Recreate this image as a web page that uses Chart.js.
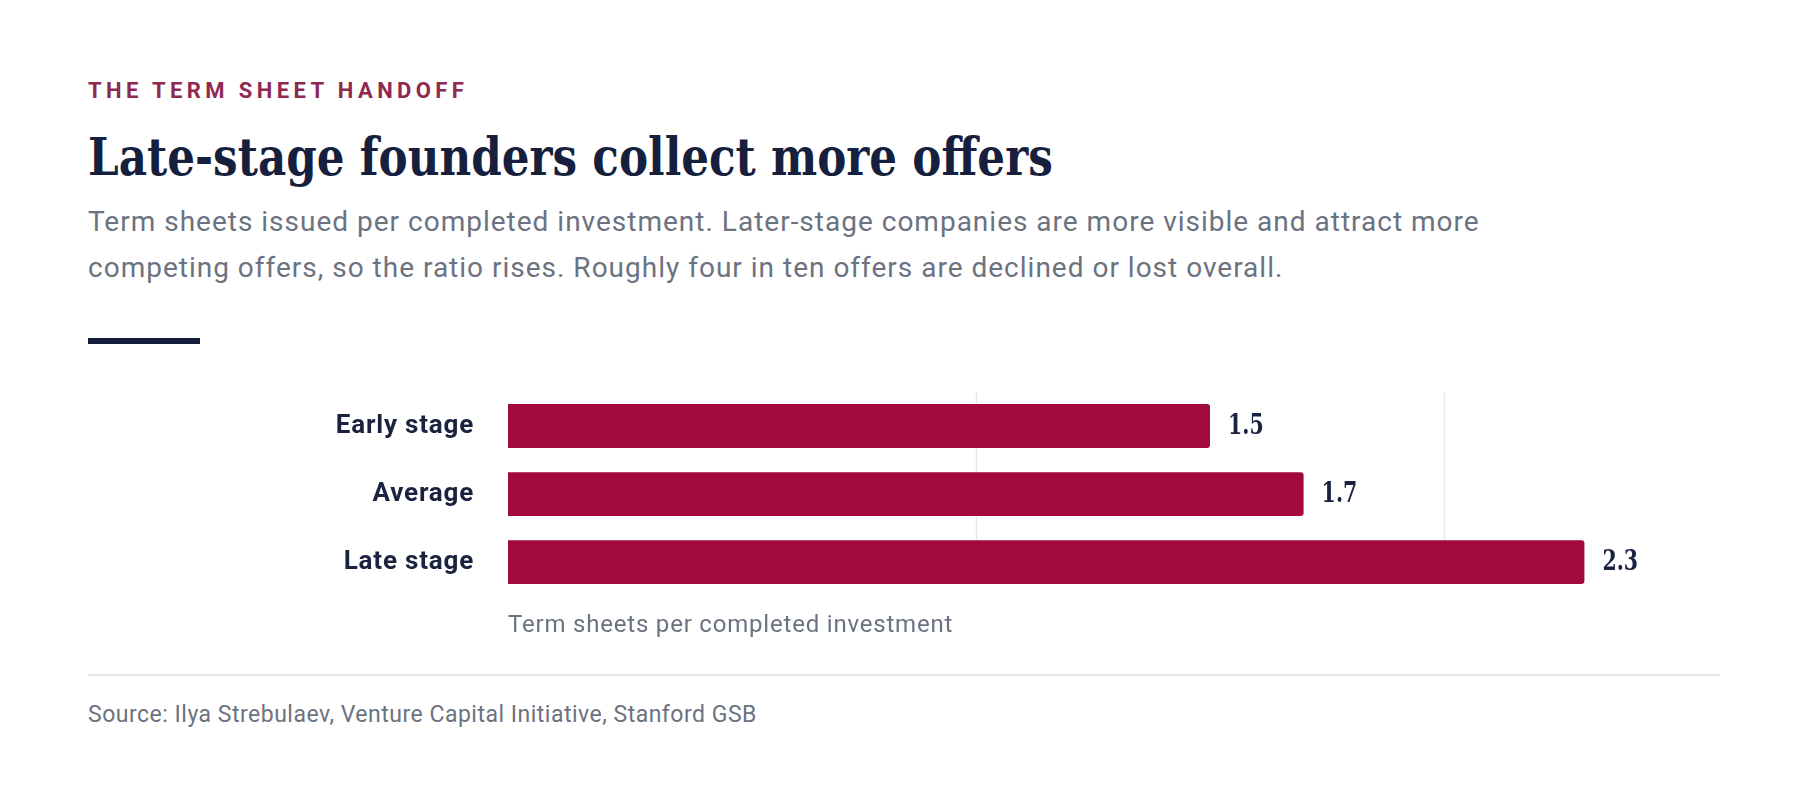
<!DOCTYPE html>
<html>
<head>
<meta charset="utf-8">
<script src="https://cdn.jsdelivr.net/npm/chart.js@4.4.1/dist/chart.umd.min.js"></script>
<style>
  html, body { margin: 0; padding: 0; background: #fff; }
  body { width: 1800px; height: 788px; position: relative; overflow: hidden; font-family: Roboto, "Noto Sans", sans-serif; }
  .abs { position: absolute; left: 88px; white-space: nowrap; }
  #kicker { top: 80px; font-size: 22px; line-height: 22px; font-weight: 700; letter-spacing: 0.2em; color: #8e2a52; }
  #title { top: 131px; font-family: "Roboto Slab", "DejaVu Serif", serif; font-size: 52px; line-height: 52px; font-weight: 700; color: #161f3d; transform: scaleX(0.84); transform-origin: 0 0; }
  #subtitle { top: 199px; width: 1460px; white-space: normal; font-size: 28px; line-height: 46px; letter-spacing: 1px; color: #6b7280; }
  #rule { top: 338px; width: 112px; height: 6px; background: #141e3c; }
  #chartBox { position: absolute; left: 88px; top: 380px; width: 1632px; height: 270px; }
  #footRule { top: 674px; width: 1632px; height: 2px; background: #e5e7eb; }
  #source { top: 703px; font-size: 23px; line-height: 23px; letter-spacing: 0.5px; color: #6b7280; }
</style>
</head>
<body>
<div class="abs" id="kicker">THE TERM SHEET HANDOFF</div>
<div class="abs" id="title">Late-stage founders collect more offers</div>
<div class="abs" id="subtitle">Term sheets issued per completed investment. Later-stage companies are more visible and attract more competing offers, so the ratio rises. Roughly four in ten offers are declined or lost overall.</div>
<div class="abs" id="rule"></div>
<div id="chartBox"><canvas id="termChart"></canvas></div>
<div class="abs" id="footRule"></div>
<div class="abs" id="source">Source: Ilya Strebulaev, Venture Capital Initiative, Stanford GSB</div>

<script>
// data
var stages = ['Early stage', 'Average', 'Late stage'];
var termSheets = [1.5, 1.7, 2.3];
var gridValues = [1, 2];
var axisTitle = 'Term sheets per completed investment';

// a touch of tracking on the canvas text, like the rest of the page
var textSpacing = {
  id: 'textSpacing',
  beforeDraw: function (chart) { chart.ctx.letterSpacing = '0.8px'; }
};

// vertical guides at 1 and 2, stopping at the bottom of the last bar
var guideLines = {
  id: 'guideLines',
  beforeDatasetsDraw: function (chart) {
    var ctx = chart.ctx;
    var xScale = chart.scales.x;
    var bars = chart.getDatasetMeta(0).data;
    var last = bars[bars.length - 1];
    var bottom = last.y + last.height / 2;
    ctx.save();
    ctx.strokeStyle = '#e8e8ec';
    ctx.lineWidth = 1.5;
    gridValues.forEach(function (v) {
      var x = Math.round(xScale.getPixelForValue(v)) + 0.5;
      ctx.beginPath();
      ctx.moveTo(x, chart.chartArea.top);
      ctx.lineTo(x, bottom);
      ctx.stroke();
    });
    ctx.restore();
  }
};

// prints the value just past the end of each bar
var valueLabels = {
  id: 'valueLabels',
  afterDatasetsDraw: function (chart) {
    var ctx = chart.ctx;
    var meta = chart.getDatasetMeta(0);
    ctx.save();
    ctx.letterSpacing = '0px';
    ctx.font = '700 27px "Roboto Slab", "DejaVu Serif", serif';
    ctx.fillStyle = '#1a2240';
    ctx.textAlign = 'left';
    ctx.textBaseline = 'middle';
    meta.data.forEach(function (bar, i) {
      ctx.save();
      ctx.translate(bar.x + 18, bar.y + 1);
      ctx.scale(0.76, 1);
      ctx.fillText(termSheets[i].toFixed(1), 0, 0);
      ctx.restore();
    });
    ctx.restore();
  }
};

var ctx = document.getElementById('termChart').getContext('2d');
var chart = new Chart(ctx, {
  type: 'bar',
  data: {
    labels: stages,
    datasets: [{
      data: termSheets,
      backgroundColor: '#a10a3b',
      borderRadius: 3,
      borderSkipped: 'start',
      categoryPercentage: 1,
      barPercentage: 0.645
    }]
  },
  options: {
    indexAxis: 'y',
    responsive: true,
    maintainAspectRatio: false,
    animation: false,
    layout: { padding: { top: 12, right: 42, bottom: 10, left: 0 } },
    plugins: { legend: { display: false }, tooltip: { enabled: false } },
    scales: {
      x: {
        min: 0,
        max: 2.5,
        ticks: { display: false, stepSize: 1 },
        border: { display: false },
        grid: { display: false, drawTicks: false },
        title: {
          display: true,
          text: axisTitle,
          align: 'start',
          color: '#6b7280',
          font: { family: 'Roboto', size: 24, weight: '400' },
          padding: { top: 15, bottom: 0 }
        }
      },
      y: {
        border: { display: false },
        grid: { display: false, drawTicks: false },
        ticks: {
          padding: 34,
          color: '#1a2240',
          font: { family: 'Roboto', size: 26, weight: '700' }
        },
        afterFit: function (scale) {
          scale.width = 420;
          scale.paddingTop = 0;
          scale.paddingBottom = 0;
        }
      }
    }
  },
  plugins: [textSpacing, guideLines, valueLabels]
});
</script>
</body>
</html>
